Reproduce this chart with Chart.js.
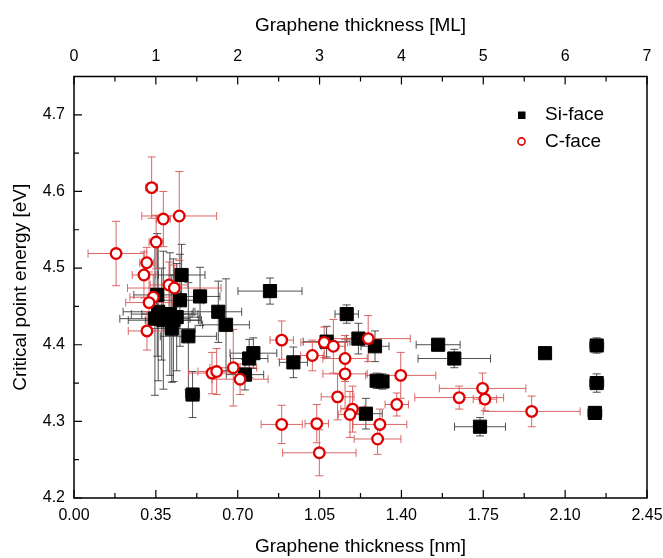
<!DOCTYPE html>
<html>
<head>
<meta charset="utf-8">
<script src="https://cdn.jsdelivr.net/npm/chart.js@4"></script>
<style>
  html, body { margin: 0; padding: 0; background: #fff; }
  #wrap { width: 663px; height: 558px; }
</style>
</head>
<body>
<div id="wrap"><canvas id="chart"></canvas></div>
<script>
// Si-face: thickness [nm], energy [eV], errors
const siX    = [0.460, 0.539, 0.838, 0.617, 0.650, 0.489, 0.767, 0.749, 0.731, 0.507, 0.938, 1.166, 1.080, 1.216, 1.287, 1.294, 1.319, 1.248, 1.557, 1.626, 1.736, 2.014, 2.235, 2.235, 2.227, 0.356, 0.453, 0.360, 0.410, 0.382, 0.425, 0.418, 0.346, 0.439, 0.375];
const siY    = [4.491, 4.463, 4.470, 4.443, 4.426, 4.411, 4.389, 4.382, 4.361, 4.335, 4.377, 4.440, 4.404, 4.408, 4.398, 4.353, 4.352, 4.310, 4.400, 4.382, 4.293, 4.389, 4.399, 4.350, 4.311, 4.465, 4.458, 4.443, 4.440, 4.432, 4.432, 4.421, 4.434, 4.436, 4.440];
const siXErr = [0.10, 0.085, 0.137, 0.10, 0.10, 0.12, 0.10, 0.08, 0.08, 0.03, 0.06, 0.05, 0.10, 0.05, 0.06, 0.02, 0.02, 0.07, 0.094, 0.155, 0.109, 0.02, 0.03, 0.03, 0.03, 0.10, 0.10, 0.15, 0.12, 0.15, 0.12, 0.10, 0.15, 0.10, 0.13];
const siYErr = [0.04, 0.038, 0.017, 0.04, 0.06, 0.07, 0.02, 0.025, 0.02, 0.03, 0.02, 0.012, 0.02, 0.02, 0.02, 0.01, 0.01, 0.02, 0.007, 0.012, 0.012, 0.006, 0.01, 0.012, 0.008, 0.08, 0.06, 0.09, 0.08, 0.09, 0.08, 0.07, 0.10, 0.07, 0.06];

// C-face
const cX    = [0.180, 0.332, 0.382, 0.450, 0.351, 0.311, 0.299, 0.406, 0.429, 0.339, 0.321, 0.312, 0.888, 0.590, 0.610, 0.681, 0.710, 1.019, 1.070, 1.109, 1.159, 1.159, 1.258, 1.397, 1.127, 1.191, 1.180, 1.380, 0.888, 1.038, 1.308, 1.298, 1.049, 1.747, 1.647, 1.757, 1.957];
const cY    = [4.519, 4.605, 4.564, 4.568, 4.534, 4.507, 4.491, 4.478, 4.474, 4.462, 4.455, 4.418, 4.406, 4.363, 4.365, 4.370, 4.355, 4.386, 4.403, 4.398, 4.382, 4.362, 4.408, 4.360, 4.332, 4.316, 4.309, 4.322, 4.296, 4.297, 4.296, 4.277, 4.259, 4.343, 4.331, 4.329, 4.313];
const cXErr = [0.12, 0.025, 0.03, 0.16, 0.03, 0.03, 0.05, 0.08, 0.20, 0.10, 0.10, 0.08, 0.05, 0.10, 0.08, 0.10, 0.12, 0.05, 0.10, 0.05, 0.095, 0.095, 0.18, 0.15, 0.07, 0.05, 0.05, 0.05, 0.088, 0.05, 0.115, 0.10, 0.157, 0.185, 0.19, 0.05, 0.207];
const cYErr = [0.042, 0.04, 0.036, 0.058, 0.035, 0.02, 0.03, 0.03, 0.03, 0.03, 0.04, 0.025, 0.025, 0.027, 0.03, 0.05, 0.02, 0.02, 0.02, 0.035, 0.03, 0.045, 0.03, 0.03, 0.03, 0.03, 0.03, 0.015, 0.025, 0.025, 0.02, 0.02, 0.03, 0.02, 0.015, 0.015, 0.02];

const nmTicks = [0, 0.35, 0.70, 1.05, 1.40, 1.75, 2.10, 2.45];
const mlTicks = [0, 1, 2, 3, 4, 5, 6, 7];
const eTicks = [4.2, 4.3, 4.4, 4.5, 4.6, 4.7];

const FONT = 'Liberation Sans, Arial, sans-serif';
const tickFont = { family: FONT, size: 16 };
const titleFont = { family: FONT, size: 19 };

function toPts(xs, ys, xe, ye) {
  return xs.map((x, i) => ({ x: x, y: ys[i], xe: xe[i], ye: ye[i] }));
}

// error bars drawn under the markers
const errorBars = {
  id: 'errorBars',
  beforeDatasetsDraw(chart) {
    const ctx = chart.ctx;
    const xs = chart.scales.x, ys = chart.scales.y;
    const cap = 4;
    chart.data.datasets.slice().reverse().forEach(ds => {
      ctx.save();
      ctx.strokeStyle = ds.errColor;
      ctx.lineWidth = 1;
      ds.data.forEach(p => {
        const px = xs.getPixelForValue(p.x), py = ys.getPixelForValue(p.y);
        const x0 = xs.getPixelForValue(p.x - p.xe), x1 = xs.getPixelForValue(p.x + p.xe);
        const y0 = ys.getPixelForValue(p.y - p.ye), y1 = ys.getPixelForValue(p.y + p.ye);
        ctx.beginPath();
        ctx.moveTo(x0, py); ctx.lineTo(x1, py);
        ctx.moveTo(x0, py - cap); ctx.lineTo(x0, py + cap);
        ctx.moveTo(x1, py - cap); ctx.lineTo(x1, py + cap);
        ctx.moveTo(px, y0); ctx.lineTo(px, y1);
        ctx.moveTo(px - cap, y0); ctx.lineTo(px + cap, y0);
        ctx.moveTo(px - cap, y1); ctx.lineTo(px + cap, y1);
        ctx.stroke();
      });
      ctx.restore();
    });
  }
};

// frame with inward ticks + legend
const frame = {
  id: 'frame',
  afterDraw(chart) {
    const ctx = chart.ctx;
    const a = chart.chartArea;
    const xs = chart.scales.x, x2 = chart.scales.x2, ys = chart.scales.y;
    ctx.save();
    ctx.strokeStyle = '#000';
    ctx.lineWidth = 1.5;
    ctx.strokeRect(a.left, a.top, a.right - a.left, a.bottom - a.top);
    ctx.lineWidth = 1.2;
    ctx.beginPath();
    nmTicks.forEach((v, i) => {
      let p = xs.getPixelForValue(v);
      ctx.moveTo(p, a.bottom); ctx.lineTo(p, a.bottom - 8);
      if (i < nmTicks.length - 1) {
        p = xs.getPixelForValue(v + 0.175);
        ctx.moveTo(p, a.bottom); ctx.lineTo(p, a.bottom - 5);
      }
    });
    mlTicks.forEach((v, i) => {
      let p = x2.getPixelForValue(v);
      ctx.moveTo(p, a.top); ctx.lineTo(p, a.top + 8);
      if (i < mlTicks.length - 1) {
        p = x2.getPixelForValue(v + 0.5);
        ctx.moveTo(p, a.top); ctx.lineTo(p, a.top + 5);
      }
    });
    eTicks.forEach(v => {
      let p = ys.getPixelForValue(v);
      ctx.moveTo(a.left, p); ctx.lineTo(a.left + 8, p);
      p = ys.getPixelForValue(v + 0.05);
      ctx.moveTo(a.left, p); ctx.lineTo(a.left + 5, p);
    });
    ctx.stroke();

    // legend
    ctx.font = '19px ' + FONT;
    ctx.textBaseline = 'middle';
    ctx.fillStyle = '#000';
    ctx.fillRect(518, 111.5, 7.5, 7.5);
    ctx.fillText(chart.data.datasets[1].label, 545, 115);
    ctx.beginPath();
    ctx.arc(521.5, 141.5, 3.6, 0, Math.PI * 2);
    ctx.strokeStyle = '#e00000';
    ctx.lineWidth = 1.6;
    ctx.stroke();
    ctx.fillText(chart.data.datasets[0].label, 545, 141.5);
    ctx.restore();
  }
};

new Chart(document.getElementById('chart'), {
  type: 'scatter',
  data: {
    datasets: [
      {
        label: 'C-face',
        data: toPts(cX, cY, cXErr, cYErr),
        pointStyle: 'circle',
        pointRadius: 5.3,
        borderWidth: 2.3,
        borderColor: '#e00000',
        backgroundColor: '#fff',
        errColor: 'rgba(215,85,85,0.9)',
        order: 1
      },
      {
        label: 'Si-face',
        data: toPts(siX, siY, siXErr, siYErr),
        pointStyle: 'rect',
        pointRadius: 9.3,
        borderWidth: 1,
        borderColor: '#000',
        backgroundColor: '#000',
        errColor: 'rgba(50,50,50,0.85)',
        order: 2
      }
    ]
  },
  options: {
    responsive: true,
    maintainAspectRatio: false,
    animation: false,
    layout: { padding: { right: 16, left: 0, top: 0, bottom: 0 } },
    plugins: { legend: { display: false }, tooltip: { enabled: false } },
    scales: {
      x: {
        type: 'linear', position: 'bottom', min: 0, max: 2.45,
        grid: { display: false, drawTicks: false },
        border: { display: false },
        ticks: { stepSize: 0.35, autoSkip: false, maxRotation: 0, padding: 8, color: '#000', font: tickFont,
                 callback: v => v.toFixed(2) },
        title: { display: true, text: 'Graphene thickness [nm]', color: '#000', font: titleFont, padding: { top: 0, bottom: 0 } },
        afterFit: s => { s.height = 60; s.paddingLeft = 0; s.paddingRight = 0; }
      },
      x2: {
        type: 'linear', position: 'top', min: 0, max: 7,
        grid: { display: false, drawTicks: false },
        border: { display: false },
        ticks: { stepSize: 1, autoSkip: false, maxRotation: 0, padding: 10, color: '#000', font: tickFont },
        title: { display: true, text: 'Graphene thickness [ML]', color: '#000', font: titleFont, padding: { top: 14, bottom: 0 } },
        afterFit: s => { s.height = 76.5; s.paddingLeft = 0; s.paddingRight = 0; }
      },
      y: {
        type: 'linear', position: 'left', min: 4.2, max: 4.75,
        grid: { display: false, drawTicks: false },
        border: { display: false },
        ticks: { stepSize: 0.1, padding: 9, color: '#000', font: tickFont, callback: v => v.toFixed(1) },
        afterBuildTicks: s => { s.ticks = s.ticks.filter(t => eTicks.some(e => Math.abs(e - t.value) < 1e-6)); },
        title: { display: true, text: 'Critical point energy [eV]', color: '#000', font: titleFont, padding: { top: 9, bottom: 0 } },
        afterFit: s => { s.width = 74; s.paddingTop = 0; s.paddingBottom = 0; }
      }
    }
  },
  plugins: [errorBars, frame]
});
</script>
</body>
</html>
